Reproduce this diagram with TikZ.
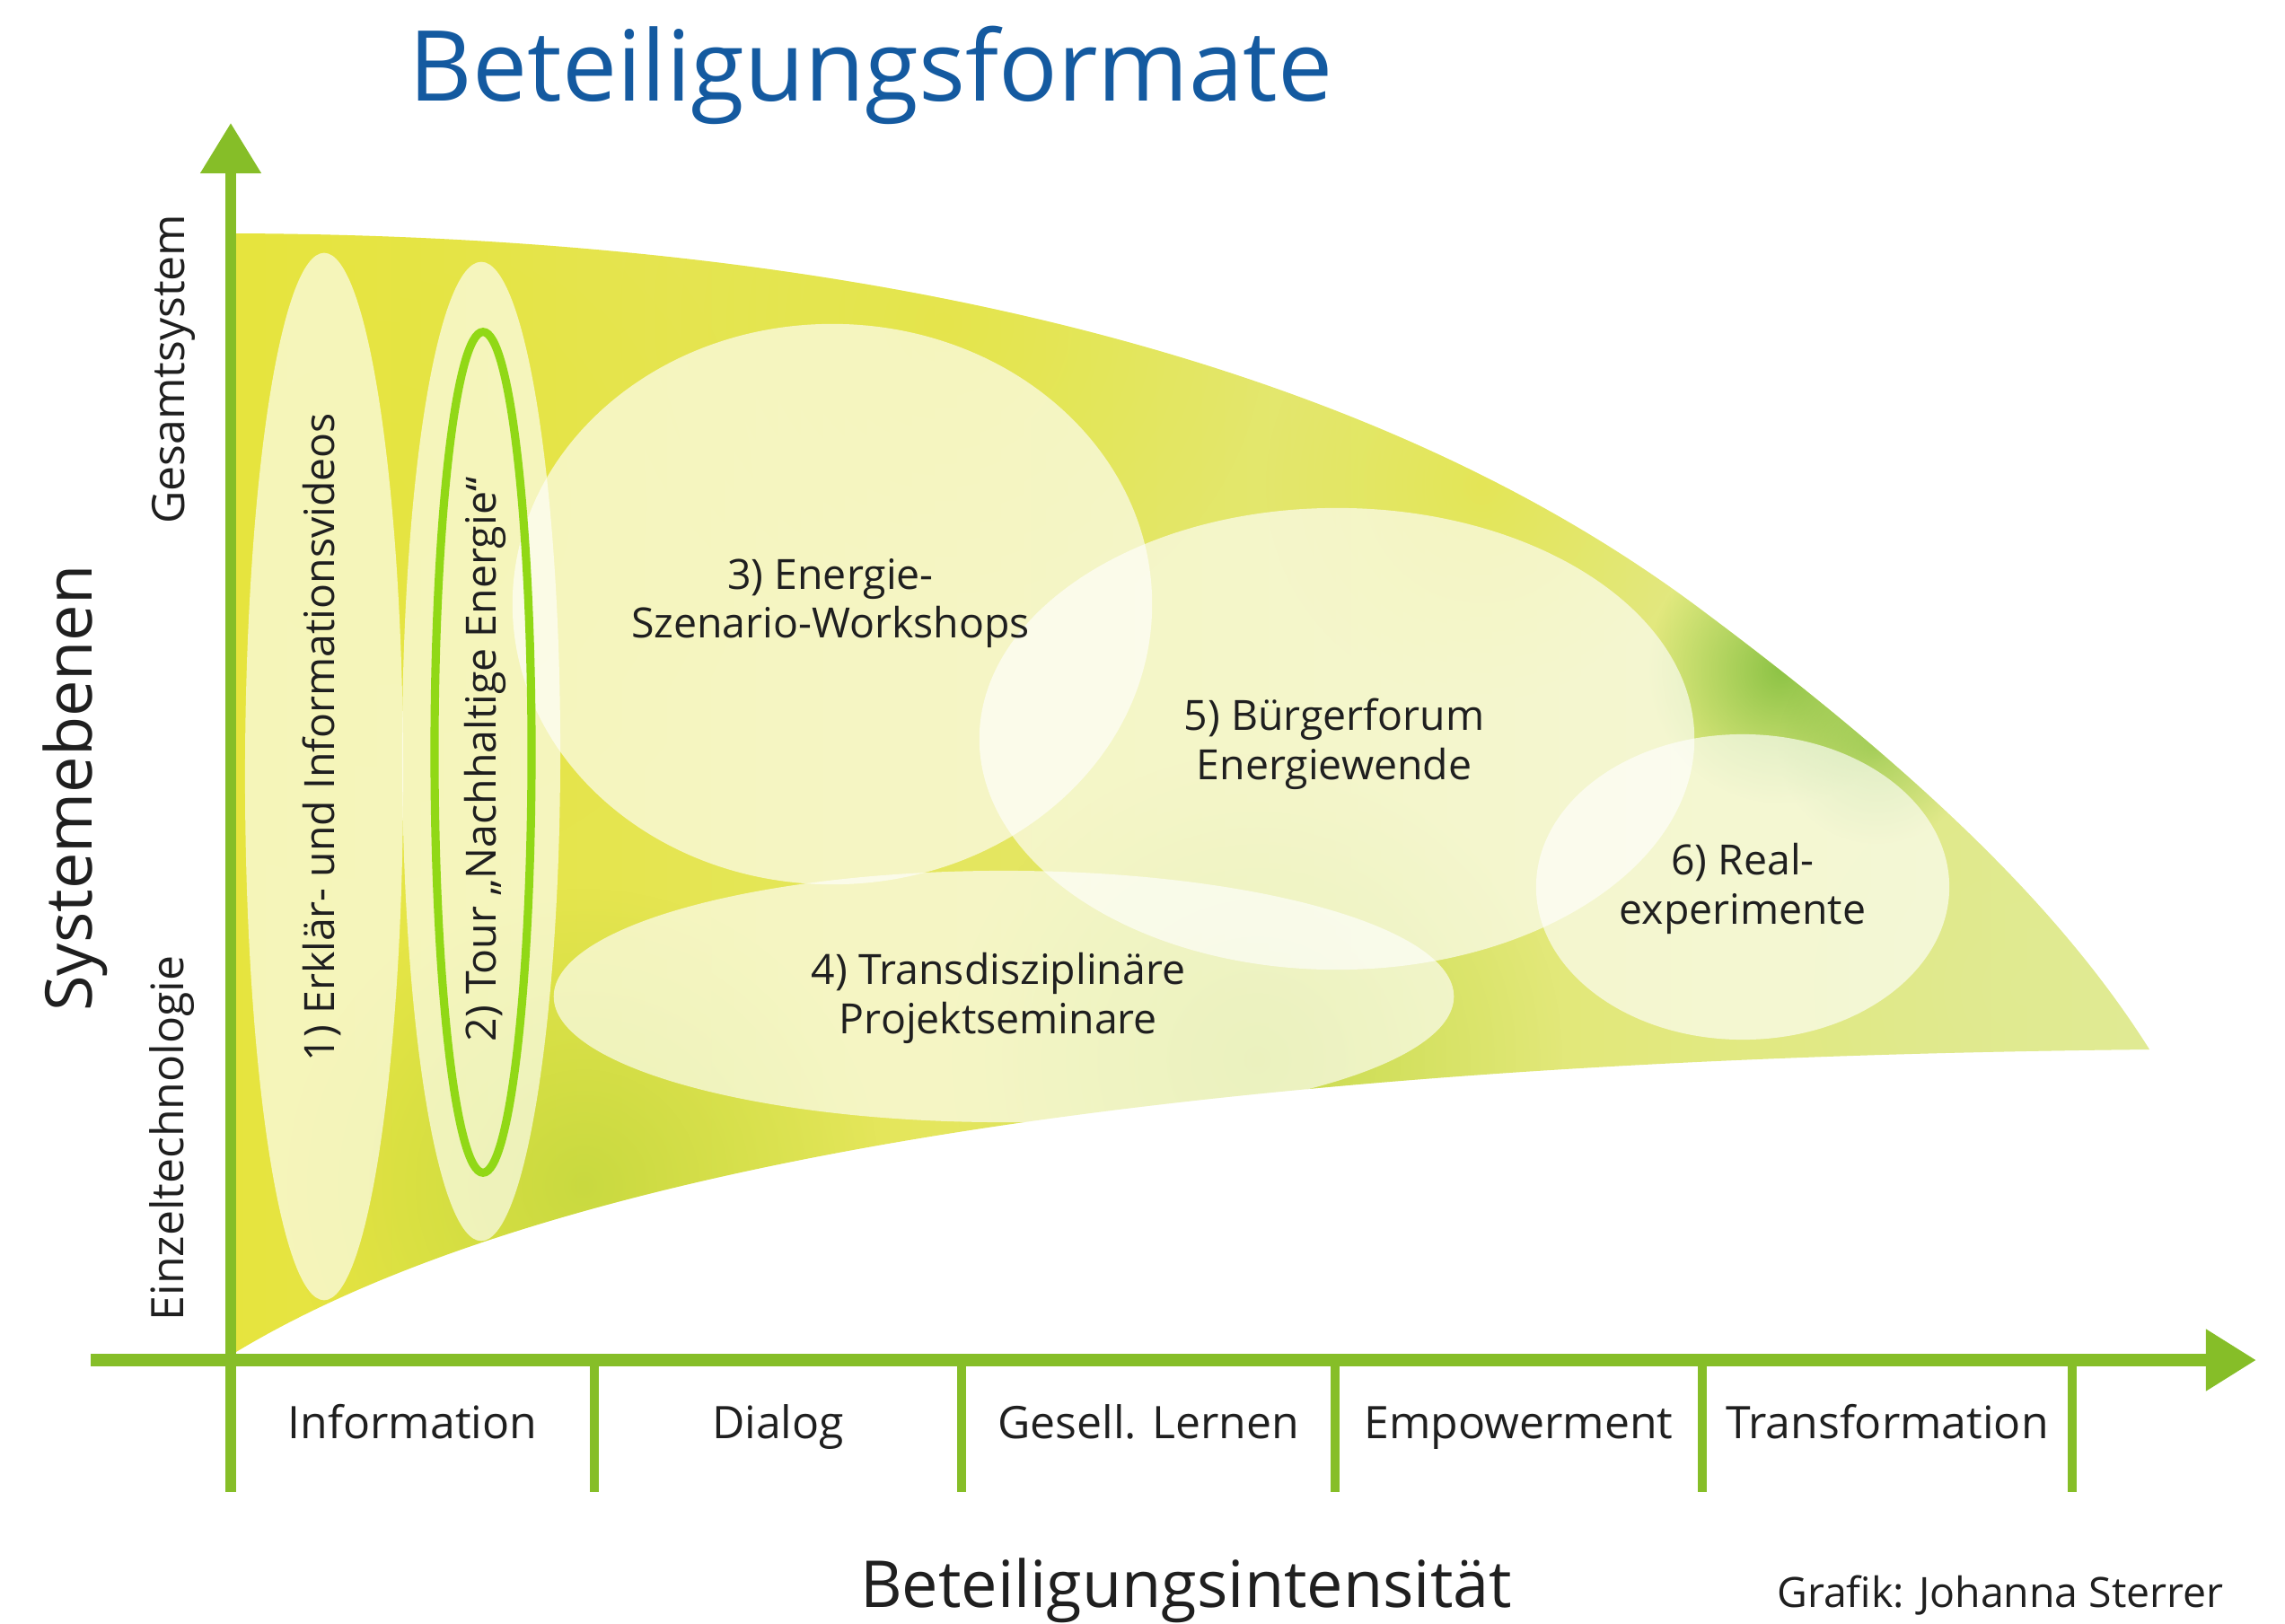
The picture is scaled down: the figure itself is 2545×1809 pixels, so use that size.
\documentclass[tikz,border=0pt]{standalone}
\usepackage{fontspec}
\setmainfont{Open Sans}
\usepackage{xcolor}
\usetikzlibrary{arrows.meta,shapes.geometric,calc,fadings}

\definecolor{axisgreen}{RGB}{134,190,40}
\definecolor{tourgreen}{RGB}{145,216,22}
\definecolor{titleblue}{RGB}{20,90,160}
\definecolor{washyellow}{RGB}{230,228,62}
\definecolor{washlime}{RGB}{205,222,78}
\definecolor{washpale}{RGB}{224,234,148}
\definecolor{washgreen}{RGB}{178,208,52}
\definecolor{washdark}{RGB}{112,182,48}
\tikzfading[name=soft, inner color=transparent!0, outer color=transparent!100]

\newcommand{\funnelshape}{(258,260) .. controls (900,262) and (1500,380) .. (1900,683)
    .. controls (2150,870) and (2300,1020) .. (2394,1169)
    .. controls (1300,1180) and (600,1300) .. (258,1509) -- cycle}

\begin{document}
\begin{tikzpicture}[
    x=0.01cm, y=-0.01cm,
    axis/.style={draw=axisgreen, line width=3.2pt, -{Triangle[length=0.56cm, width=0.65cm]}},
    tick/.style={draw=axisgreen, line width=2.6pt},
    wash/.style={path fading=soft, fill opacity=0.55},
    fmt/.style={ellipse, fill=white, fill opacity=0.64, draw=none, inner sep=0pt},
    ring/.style={ellipse, draw=tourgreen, line width=2.6pt, inner sep=0pt},
    lbl/.style={align=center, text=black!88, font=\fontsize{13.2}{15.6}\selectfont},
    cat/.style={anchor=base, text=black!88, font=\fontsize{14.2}{17}\selectfont},
    level/.style={rotate=90, anchor=base, text=black!88, font=\fontsize{14.2}{17}\selectfont},
    big/.style={anchor=base, text=black!88, font=\fontsize{20.5}{24}\selectfont}
]
    \useasboundingbox (0,0) rectangle (2545,1809);

    % funnel with watercolor wash
    \shade[left color=washyellow, middle color=washlime, right color=washpale] \funnelshape;
    \begin{scope}
        \clip \funnelshape;
        \fill[washyellow, wash] (420,560) circle (420);
        \fill[washyellow, wash] (1050,360) circle (360);
        \fill[washgreen, wash] (650,1320) circle (330);
        \fill[washgreen, wash] (1400,1180) circle (340);
        \fill[washyellow, wash] (1650,540) circle (240);
        \fill[washdark, wash, fill opacity=0.75] (1985,745) circle (150);
        \fill[washdark, wash, fill opacity=0.5] (2090,830) circle (110);
        \fill[washpale, wash] (2260,1100) circle (240);
    \end{scope}

    % formats
    \node[fmt, minimum width=1.76cm, minimum height=11.66cm] (f1) at (361,865) {};
    \node[fmt, minimum width=1.76cm, minimum height=10.90cm] (f2) at (536,837) {};
    \node[fmt, minimum width=7.12cm, minimum height=6.24cm] (f3) at (927,673) {};
    \node[fmt, minimum width=10.02cm, minimum height=2.80cm] (f4) at (1118,1110) {};
    \node[fmt, minimum width=7.96cm, minimum height=5.14cm] (f5) at (1489,823) {};
    \node[fmt, minimum width=4.60cm, minimum height=3.40cm] (f6) at (1941,988) {};
    \node[ring, minimum width=1.08cm, minimum height=9.36cm] (tour) at (538,838) {};

    \node[lbl, rotate=90] (t1) at (358,821) {1) Erklär- und Informationsvideos};
    \node[lbl, rotate=90] (t2) at (540,846) {2) Tour „Nachhaltige Energie“};
    \node[lbl] (t3) at (925,672) {3) Energie-\\Szenario-Workshops};
    \node[lbl] (t4) at (1112,1112) {4) Transdisziplinäre\\Projektseminare};
    \node[lbl] (t5) at (1486,829) {5) Bürgerforum\\Energiewende};
    \node[lbl] (t6) at (1941,990) {6) Real-\\experimente};

    % axes
    \coordinate (origin) at (257,1515);
    \coordinate (ytop) at (257,137);
    \coordinate (ybot) at (257,1662);
    \coordinate (xleft) at (101,1515);
    \coordinate (xright) at (2513,1515);
    \draw[axis] (ybot) -- (ytop);
    \draw[axis, line width=4pt] (xleft) -- (xright);

    \coordinate (k1) at (662,1515);
    \coordinate (k2) at (1071,1515);
    \coordinate (k3) at (1487,1515);
    \coordinate (k4) at (1896,1515);
    \coordinate (k5) at (2308,1515);
    \draw[tick] (k1) -- ++(0,147);
    \draw[tick] (k2) -- ++(0,147);
    \draw[tick] (k3) -- ++(0,147);
    \draw[tick] (k4) -- ++(0,147);
    \draw[tick] (k5) -- ++(0,147);

    \node[cat] (information) at ($(origin)!0.5!(k1)+(0,87)$) {Information};
    \node[cat] (dialog) at ($(k1)!0.5!(k2)+(0,87)$) {Dialog};
    \node[cat] (lernen) at ($(k2)!0.5!(k3)+(0,87)$) {Gesell. Lernen};
    \node[cat] (empowerment) at ($(k3)!0.5!(k4)+(0,87)$) {Empowerment};
    \node[cat] (transformation) at ($(k4)!0.5!(k5)+(0,87)$) {Transformation};

    % titles
    \node[anchor=base, text=titleblue, font=\fontsize{31}{36}\selectfont] (title) at (970,112) {Beteiligungsformate};
    \node[big] (xname) at (1321,1790) {Beteiligungsintensität};
    \node[big, rotate=90] (yname) at (102,878) {Systemebenen};
    \node[level] (gesamt) at (205,411) {Gesamtsystem};
    \node[level] (einzel) at (204,1268) {Einzeltechnologie};
    \node[anchor=base east, text=black!88, font=\fontsize{13.2}{16}\selectfont] (credit) at (2489,1790) {Grafik: Johanna Sterrer};
\end{tikzpicture}
\end{document}
